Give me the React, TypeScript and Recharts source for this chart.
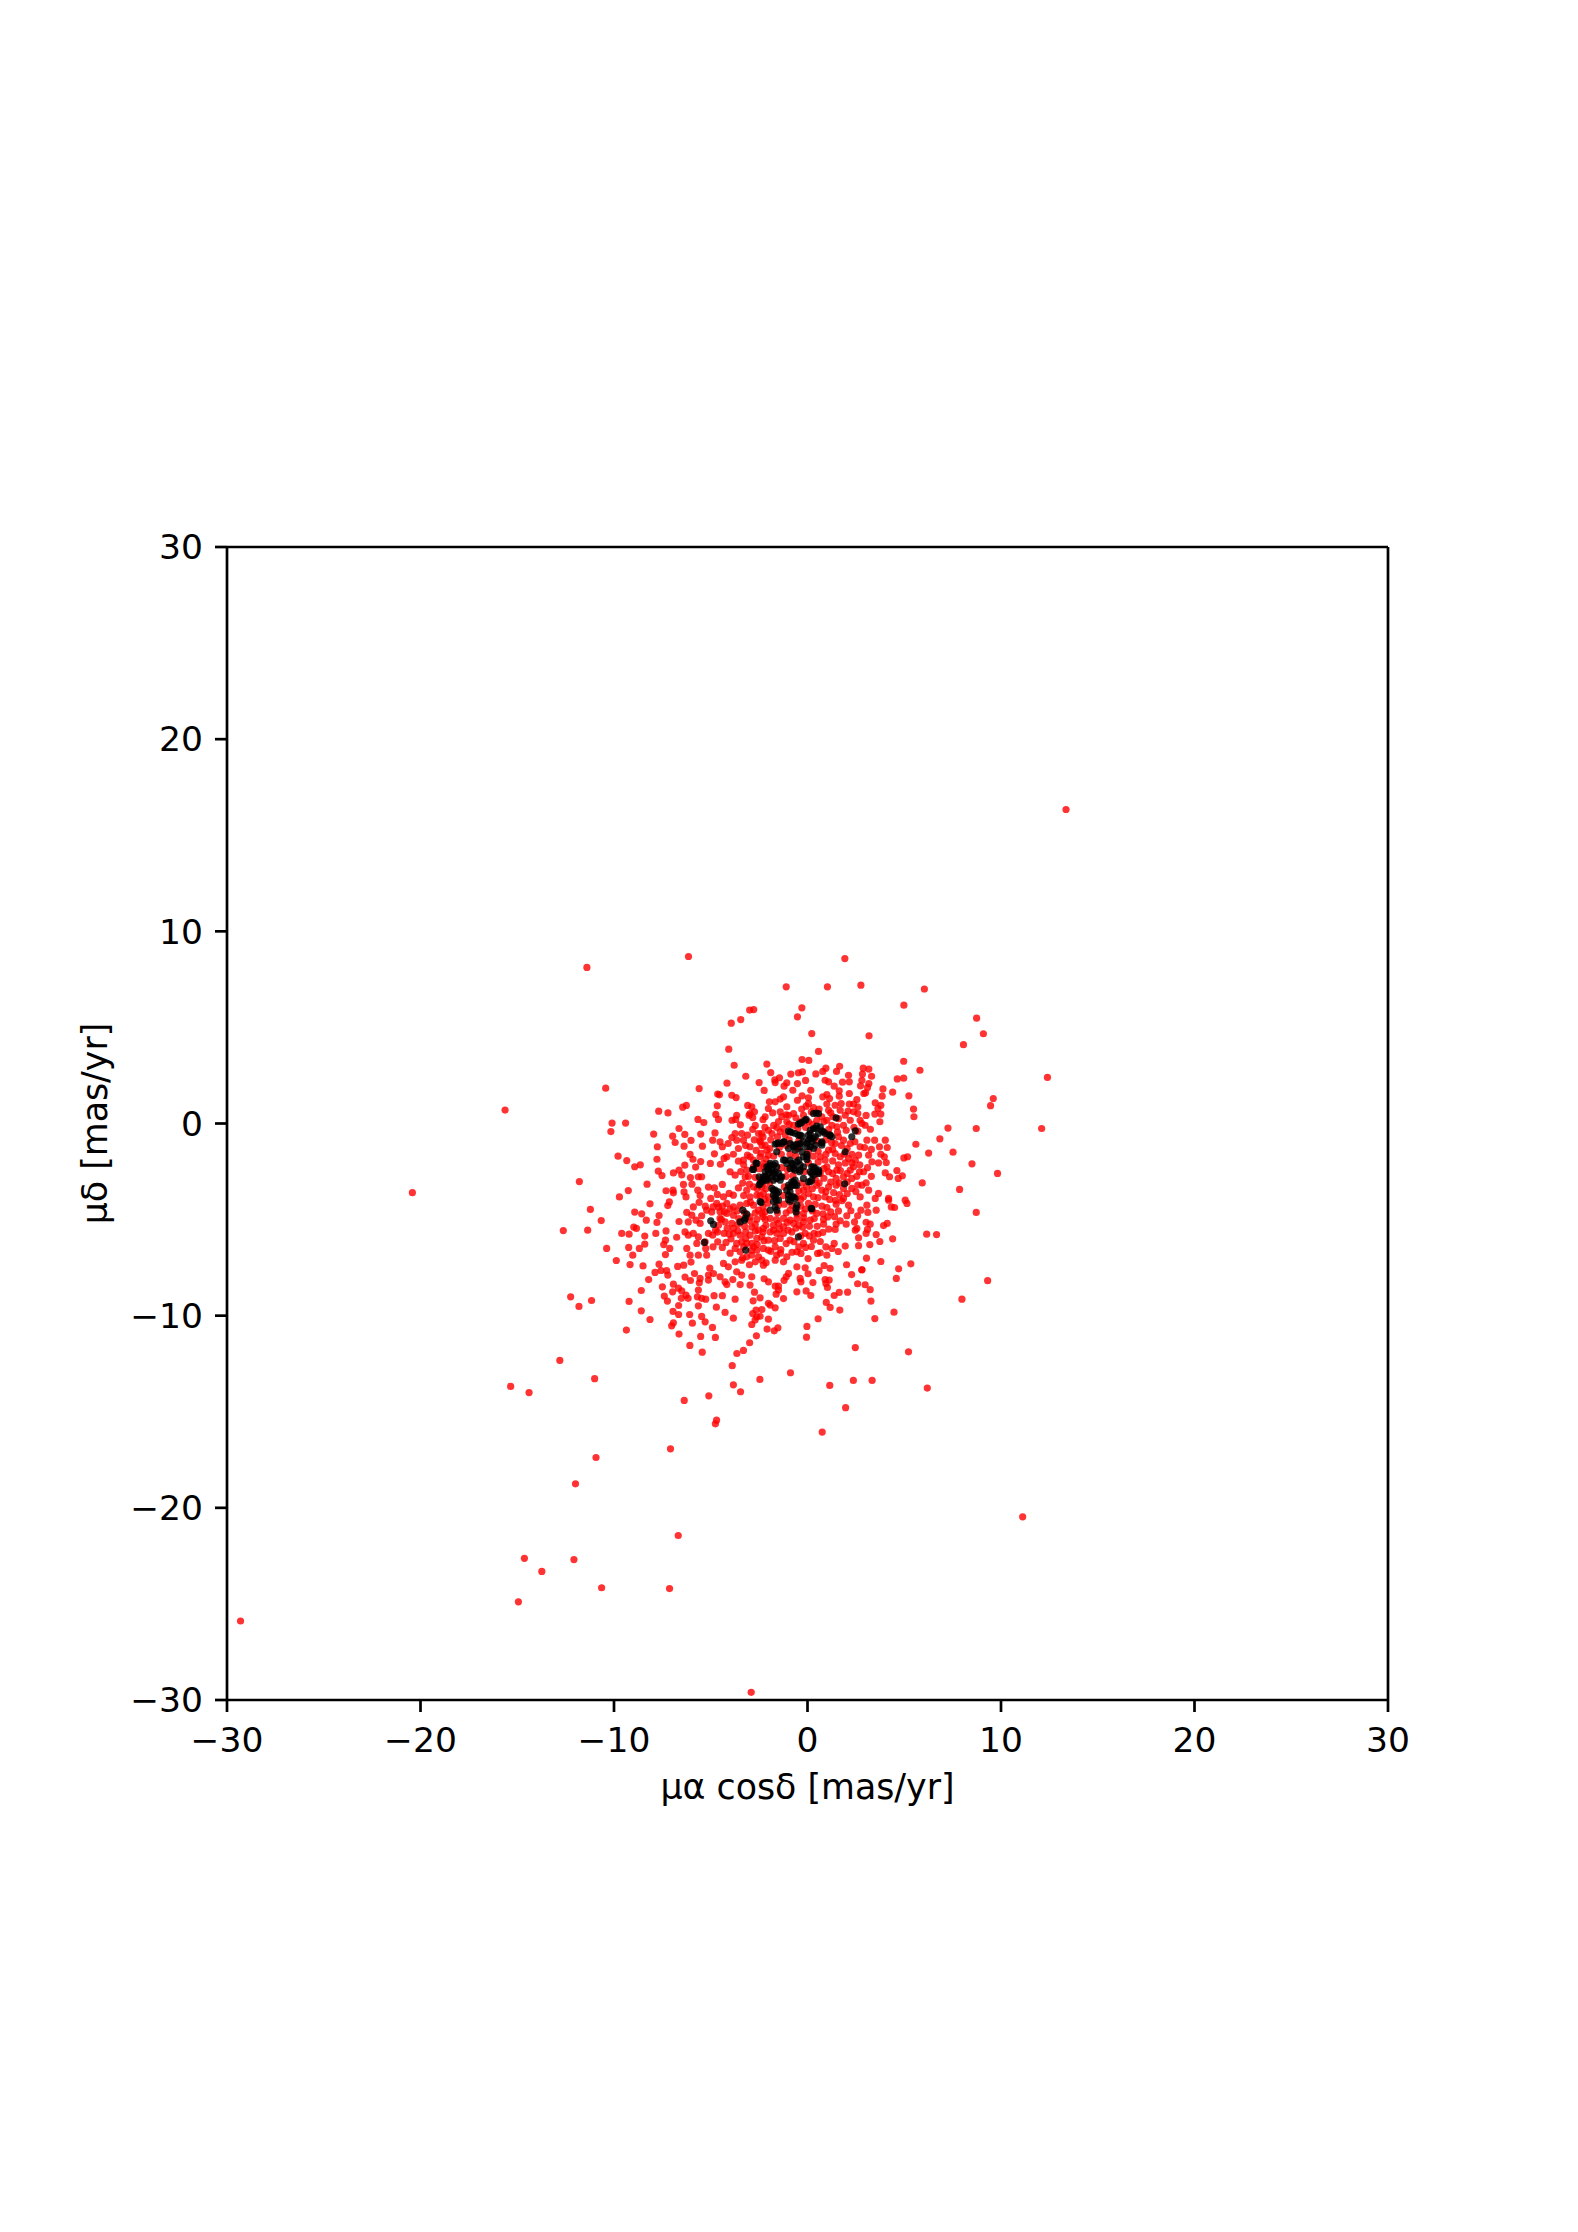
import { ScatterChart, Scatter, XAxis, YAxis, ReferenceLine } from 'recharts'

const TICKS = [-30, -20, -10, 0, 10, 20, 30]
const X_LABEL = 'μα cosδ [mas/yr]'
const Y_LABEL = 'μδ [mas/yr]'

// field stars, [pmra, pmdec]
const redOutliers: [number, number][] = [
  [13.36, 16.34], [-6.15, 8.69], [-11.4, 8.12], [1.93, 8.58], [-1.1, 7.11], [1.03, 7.11], [2.76, 7.2], [6.04, 7.0],
  [4.98, 6.16], [-0.29, 6.02], [-0.52, 5.55], [-2.99, 5.9], [-2.78, 5.93], [-3.45, 5.41], [-3.94, 5.22], [8.74, 5.48],
  [0.22, 4.68], [3.18, 4.56], [9.09, 4.67], [8.06, 4.1], [12.4, 2.4], [12.1, -0.26], [9.6, 1.3], [9.46, 0.93],
  [8.72, -0.26], [8.5, -2.1], [9.82, -2.6], [8.72, -4.63], [9.31, -8.18], [7.98, -9.14], [-15.63, 0.7], [-20.42, -3.6],
  [-6.08, -11.55], [-5.44, -11.9], [-3.65, -11.97], [-3.31, -11.81], [-2.99, -11.41], [2.47, -11.66], [5.22, -11.88],
  [-3.89, -12.6], [-12.8, -12.33], [-11.0, -13.28], [-15.34, -13.68], [-14.39, -14.0], [-2.46, -13.32], [-0.88, -12.97],
  [-3.83, -13.6], [-3.46, -13.96], [-5.1, -14.17], [-6.37, -14.41], [1.15, -13.63], [2.37, -13.37], [3.34, -13.37],
  [6.19, -13.77], [1.97, -14.79], [0.76, -16.06], [-4.7, -15.44], [-4.76, -15.63], [-7.08, -16.93], [-10.93, -17.38],
  [-11.99, -18.75], [11.12, -20.47], [-6.68, -21.44], [-14.63, -22.63], [-12.07, -22.69], [-13.73, -23.31],
  [-10.64, -24.16], [-7.13, -24.2], [-14.94, -24.89], [-29.3, -25.89], [-2.91, -29.6],
]

const redUpperLeft: [number, number][] = [
  [-4.07, 3.87], [-3.79, 3.03], [-3.19, 2.46], [-4.16, 2.1], [-2.5, 2.13], [-10.43, 1.84], [-5.6, 1.82], [-4.64, 1.53],
  [-4.55, 1.49], [-3.91, 1.47], [-3.69, 1.35], [-7.69, 0.64], [-7.21, 0.55], [-6.26, 0.94], [-6.45, 0.85], [-4.66, 0.92],
  [-3.09, 0.94], [-2.88, 0.87], [-4.74, 0.47], [-4.6, 0.21], [-5.66, 0.21], [-5.36, 0.05], [-3.9, 0.17], [-3.66, 0.43],
  [-3.71, 0.21], [-2.97, 0.52], [-2.74, 0.61], [-2.83, 0.31], [-3.02, 0.43], [-10.1, 0.02], [-9.4, 0.02], [-10.16, -0.42],
  [-7.95, -0.55], [-6.64, -0.26], [-6.97, -0.66], [-6.84, -0.99], [-6.34, -0.57], [-6.02, -0.88], [-5.52, -0.55],
  [-4.78, -0.49], [-4.9, -0.87], [-3.47, -0.07], [-2.83, -0.31], [-6.38, -1.18], [-5.43, -1.18], [-7.76, -1.21],
  [-4.52, -0.95], [-4.4, -1.21], [-4.1, -1.04], [-3.74, -0.52], [-3.4, -0.52], [-3.91, -0.73], [-3.66, -0.87],
  [-3.31, -0.87], [-3.57, -1.3], [-2.97, -1.21], [-2.53, -0.52], [-2.45, -0.95], [-9.79, -1.7], [-9.34, -1.93],
  [-8.93, -2.25], [-8.64, -2.15], [-7.78, -1.86], [-7.71, -2.48], [-7.52, -2.71], [-6.93, -2.57], [-6.64, -2.43],
  [-6.5, -2.67], [-6.34, -2.17], [-6.07, -1.61], [-5.92, -1.86], [-5.78, -2.27], [-5.52, -1.98], [-4.81, -1.58],
  [-5.02, -2.08], [-4.5, -2.12], [-4.31, -1.82], [-4.17, -1.73], [-3.83, -1.6], [-3.57, -1.96], [-3.31, -1.91],
  [-2.97, -1.73], [-3.14, -2.43], [-2.79, -2.25], [-4.0, -2.51], [-3.74, -2.69], [-3.22, -2.77], [-3.57, -3.35],
  [-6.05, -2.81], [-5.64, -2.77], [-5.47, -2.77], [-11.79, -3.02], [-8.29, -3.16], [-9.26, -3.49], [-9.72, -3.82],
  [-7.31, -3.5], [-6.95, -3.47], [-6.93, -3.61], [-6.41, -3.17], [-6.38, -3.56], [-6.28, -3.82], [-5.97, -3.16],
  [-5.67, -3.47], [-5.12, -3.31], [-4.81, -3.35], [-4.4, -3.17], [-4.05, -3.64], [-3.83, -3.73], [-4.66, -3.69],
  [-4.34, -3.82], [-3.14, -3.47], [-2.79, -3.3], [-2.97, -3.82], [-2.62, -3.73],
]

const redLowerLeft: [number, number][] = [
  [-11.22, -4.47], [-10.66, -5.05], [-12.62, -5.57], [-11.36, -5.55], [-8.93, -4.61], [-8.57, -4.7], [-8.14, -4.18],
  [-7.67, -4.79], [-8.33, -5.03], [-7.78, -5.15], [-8.98, -5.39], [-8.84, -5.46], [-9.6, -5.72], [-9.22, -5.76],
  [-8.41, -5.86], [-7.84, -5.72], [-7.31, -5.59], [-6.76, -5.92], [-6.64, -5.1], [-7.14, -4.08], [-7.22, -4.27],
  [-6.24, -4.63], [-5.9, -4.34], [-6.16, -5.12], [-5.98, -4.77], [-5.76, -5.03], [-5.47, -4.8], [-5.55, -5.2],
  [-5.28, -4.3], [-4.88, -4.34], [-4.52, -4.59], [-6.33, -5.64], [-6.16, -5.81], [-5.9, -5.72], [-5.64, -5.9],
  [-10.38, -6.5], [-9.24, -6.45], [-8.41, -6.28], [-8.69, -6.5], [-9.03, -6.85], [-7.34, -6.07], [-7.43, -6.3],
  [-7.12, -6.5], [-7.34, -6.82], [-9.88, -7.13], [-9.17, -7.34], [-8.5, -7.41], [-7.67, -7.32], [-6.24, -6.5],
  [-5.72, -6.24], [-5.64, -6.85], [-6.07, -6.85], [-6.02, -7.21], [-6.71, -7.44], [-6.4, -7.37], [-5.26, -6.5],
  [-5.21, -6.85], [-4.88, -6.42], [-4.64, -6.16], [-4.31, -5.72], [-5.12, -5.72], [-4.9, -5.81], [-4.21, -6.19],
  [-3.83, -5.72], [-3.66, -6.24], [-3.4, -6.16], [-3.14, -6.24], [-2.88, -6.24], [-3.74, -6.5], [-3.48, -6.68],
  [-3.14, -6.94], [-2.88, -6.85], [-2.62, -6.59], [-2.62, -5.98], [-4.34, -7.28], [-4.09, -7.46], [-3.74, -7.2],
  [-3.4, -7.11], [-7.88, -7.75], [-7.57, -7.65], [-7.28, -7.66], [-7.22, -7.89], [-8.21, -8.12], [-5.05, -7.53],
  [-5.84, -7.81], [-6.33, -7.99], [-6.05, -8.17], [-5.55, -8.06], [-5.59, -8.29], [-5.12, -7.89], [-4.86, -7.81],
  [-5.12, -8.15], [-4.52, -7.98], [-4.26, -8.24], [-3.86, -8.12], [-4.17, -8.38], [-3.66, -7.72], [-3.4, -7.89],
  [-3.48, -8.38], [-2.97, -8.41], [-2.88, -7.98], [-6.93, -8.36], [-7.5, -8.5], [-6.97, -8.76], [-6.67, -8.57],
  [-8.59, -8.69], [-6.5, -8.71], [-6.28, -8.93], [-6.17, -9.1], [-6.52, -9.1], [-7.4, -8.98], [-7.24, -9.24],
  [-5.64, -8.67], [-5.69, -9.02], [-5.26, -9.14], [-5.47, -9.1], [-4.83, -8.96], [-4.4, -8.96], [-3.74, -9.14],
  [-2.74, -8.78], [-2.81, -9.23], [-12.24, -9.02], [-11.16, -9.21], [-11.81, -9.52], [-9.22, -9.26], [-8.59, -9.75],
  [-8.14, -10.2], [-6.66, -9.47], [-6.95, -9.78], [-6.66, -9.94], [-5.64, -9.49], [-4.71, -9.56], [-6.09, -9.94],
  [-5.47, -10.04], [-5.29, -10.32], [-4.26, -9.83], [-3.83, -10.13], [-2.66, -9.71], [-2.83, -9.89], [-2.62, -10.06],
  [-2.71, -10.23], [-2.88, -10.46], [-6.93, -10.37], [-7.02, -10.53], [-5.95, -10.39], [-9.36, -10.75], [-6.64, -10.96],
  [-4.91, -10.61], [-5.52, -11.08], [-4.76, -11.13], [-2.64, -11.05], [-4.17, -4.16], [-3.83, -4.34], [-3.48, -4.25],
  [-3.14, -4.16], [-2.79, -4.25], [-2.53, -4.51], [-4.17, -4.68], [-3.83, -4.77], [-4.52, -4.94], [-4.26, -5.12],
  [-3.91, -5.2], [-3.83, -5.46], [-2.97, -4.86], [-2.62, -4.99], [-2.88, -5.38], [-2.53, -5.55], [-3.19, -5.64],
  [-3.48, -5.81], [-2.97, -5.81], [-3.19, -5.98], [-4.69, -4.16], [-5.21, -4.51], [-2.79, -6.42], [-2.53, -6.94],
  [-5.29, -6.16],
]

const redUpperRight: [number, number][] = [
  [0.57, 3.75], [-0.28, 3.33], [0.07, 3.28], [4.97, 3.24], [5.81, 2.77], [-2.1, 3.09], [-1.9, 2.65], [-0.86, 2.57],
  [-0.47, 2.64], [-0.26, 2.69], [0.43, 2.58], [0.79, 2.71], [0.95, 2.88], [1.66, 2.98], [1.5, 2.71], [2.12, 2.51],
  [2.88, 2.88], [3.17, 2.83], [3.31, 2.46], [2.84, 2.57], [2.81, 2.25], [3.17, 2.08], [3.1, 1.87], [2.74, 1.96],
  [3.0, 1.6], [2.91, 1.56], [4.64, 2.32], [4.97, 2.36], [4.4, 1.63], [5.24, 1.44], [3.9, 1.8], [3.86, 1.42],
  [-1.69, 2.27], [-1.45, 2.38], [-1.67, 2.13], [-1.07, 2.12], [-1.21, 1.94], [-0.52, 2.08], [-0.1, 2.24], [0.91, 2.25],
  [1.09, 2.17], [1.38, 1.94], [1.81, 2.15], [2.16, 2.17], [-2.24, 1.72], [-0.76, 1.73], [0.17, 1.73], [1.64, 1.7],
  [1.64, 1.42], [2.16, 1.56], [0.79, 1.39], [1.0, 1.51], [1.14, 1.3], [-0.28, 1.44], [-0.52, 1.21], [0.05, 1.34],
  [-1.24, 1.39], [-1.41, 1.27], [-1.67, 1.13], [-1.97, 1.13], [-2.02, 0.78], [-2.19, 0.35], [2.55, 1.25], [2.16, 1.01],
  [2.38, 1.01], [1.43, 0.95], [1.74, 1.04], [1.0, 1.01], [1.09, 0.69], [0.05, 1.04], [-0.07, 0.9], [0.31, 0.83],
  [-1.07, 0.87], [-1.41, 0.61], [-0.72, 0.52], [-0.98, 0.43], [-1.33, 0.35], [3.5, 1.08], [3.79, 0.95], [3.64, 0.78],
  [3.48, 0.49], [3.79, 0.49], [3.03, 0.42], [2.6, 0.87], [2.38, 0.61], [2.6, 0.52], [1.69, 0.69], [1.95, 0.43],
  [1.31, 0.35], [1.0, 0.17], [5.48, 0.75], [5.5, 0.35], [3.74, 0.09], [2.72, 0.17], [2.21, 0.17], [2.98, -0.09],
  [2.81, 0.0], [1.86, -0.09], [1.52, -0.17], [1.26, -0.09], [7.26, -0.24], [6.84, -0.8], [5.6, -1.08], [6.26, -1.54],
  [7.52, -1.49], [3.07, -0.87], [3.47, -0.87], [4.02, -0.87], [3.72, -1.21], [4.12, -1.25], [2.72, -1.21], [2.21, -1.04],
  [1.86, -0.87], [1.6, -0.69], [1.43, -1.04], [1.09, -1.39], [1.43, -1.56], [1.69, -1.73], [2.12, -1.82], [2.64, -1.65],
  [2.47, -1.91], [2.38, -2.25], [3.16, -1.65], [3.33, -1.99], [3.79, -1.6], [3.97, -1.73], [3.67, -2.05], [4.07, -2.03],
  [4.98, -1.79], [5.17, -1.73], [2.69, -2.51], [2.9, -2.51], [2.21, -2.43], [4.02, -2.57], [4.24, -2.77], [4.62, -2.45],
  [4.9, -2.72], [4.69, -2.86], [5.93, -3.09], [7.86, -3.43], [1.52, -2.43], [1.09, -2.51], [1.48, -2.86], [1.86, -2.77],
  [2.29, -2.86], [1.48, -3.21], [1.09, -3.3], [1.86, -3.38], [2.29, -3.38], [2.81, -3.21], [3.03, -3.09], [3.16, -3.47],
  [2.72, -3.82], [3.67, -3.64], [4.19, -3.9], [3.5, -3.9], [5.05, -3.99], [1.86, -3.9], [0.91, -3.82], [-2.36, -0.52],
  [-2.02, -0.35], [-1.59, -0.21], [-2.45, -0.87], [-2.19, -1.13], [-1.07, 0.09], [-0.72, -0.09], [-2.1, -1.39],
  [-2.45, -1.73], [-2.28, -2.08], [-2.02, -1.65], [-1.84, -0.52], [-1.41, -0.43], [-0.21, 0.43], [1.0, -0.52],
  [0.74, 0.35], [0.48, 0.17], [0.05, 0.09], [-0.38, 0.09], [0.66, -1.73], [0.91, -1.91], [0.66, -2.6], [1.0, -2.25],
  [0.48, -3.21], [0.74, -3.47], [0.31, -3.82], [-0.21, -3.47], [-0.21, -3.82], [-0.55, -3.82], [-2.1, -2.77],
  [-2.36, -3.3], [-2.02, -3.82], [-2.45, -2.95], [-2.28, -3.64],
]

const redLowerRight: [number, number][] = [
  [6.16, -5.76], [6.67, -5.78], [4.4, -6.0], [3.55, -5.78], [3.74, -6.14], [3.22, -6.3], [2.64, -5.95], [2.64, -6.36],
  [1.95, -6.38], [1.59, -6.66], [1.38, -6.24], [0.95, -6.42], [1.26, -6.5], [0.66, -6.14], [1.0, -6.85], [0.66, -6.73],
  [0.52, -6.76], [3.05, -7.01], [3.79, -7.18], [5.34, -7.3], [2.02, -7.35], [4.71, -7.56], [2.81, -7.61], [2.81, -7.61],
  [4.59, -8.06], [2.28, -7.86], [1.17, -7.54], [0.86, -7.39], [0.6, -7.66], [0.03, -7.03], [-0.12, -7.51], [-0.55, -7.46],
  [0.03, -7.82], [-0.38, -8.06], [-0.34, -8.24], [0.28, -8.28], [0.91, -8.12], [1.12, -8.15], [0.95, -8.33], [1.03, -8.53],
  [2.59, -8.34], [2.98, -8.39], [3.24, -8.65], [2.07, -8.78], [1.64, -8.79], [1.38, -8.95], [-0.07, -8.71], [0.17, -8.95],
  [-0.55, -8.76], [-1.24, -9.11], [-0.98, -7.8], [-1.1, -7.98], [-1.21, -8.16], [-2.24, -8.08], [-2.02, -8.24],
  [-1.67, -8.46], [-1.5, -8.46], [-1.5, -8.67], [-1.62, -8.88], [3.28, -9.24], [0.97, -9.31], [1.17, -9.57], [1.67, -9.71],
  [4.47, -9.82], [3.48, -10.15], [0.55, -10.16], [-2.02, -9.36], [-1.93, -9.45], [-1.67, -9.59], [-2.36, -9.68],
  [-2.45, -9.07], [-2.02, -10.18], [-2.45, -10.03], [-1.53, -10.63], [-1.72, -10.79], [-2.09, -10.7], [-0.03, -10.56],
  [-0.05, -11.12], [1.48, -4.2], [1.0, -4.37], [2.12, -4.25], [2.24, -4.54], [1.78, -4.02], [3.07, -4.25], [2.76, -4.51],
  [3.12, -4.63], [3.55, -4.51], [2.59, -4.8], [2.03, -4.8], [4.33, -4.34], [4.5, -4.37], [5.14, -4.16], [4.19, -3.99],
  [4.12, -5.2], [3.93, -5.31], [3.03, -5.14], [3.24, -5.24], [2.43, -5.12], [3.1, -5.51], [3.03, -5.72], [2.55, -5.46],
  [2.47, -5.55], [2.0, -5.24], [1.69, -5.06], [1.48, -5.24], [1.43, -5.51], [1.05, -4.86], [0.83, -4.99], [0.83, -5.24],
  [0.79, -5.67], [0.34, -5.72], [-0.21, -5.12], [-0.45, -5.29], [-0.72, -5.2], [-0.9, -5.03], [-1.24, -4.94], [-1.24, -5.38],
  [-0.81, -5.64], [-1.5, -5.2], [-1.76, -5.29], [-1.93, -4.94], [-2.19, -4.99], [-2.28, -5.46], [-1.93, -5.64], [-1.59, -5.72],
  [-1.24, -5.72], [-2.36, -5.9], [-2.02, -6.07], [-1.41, -5.98], [-0.9, -6.07], [-0.12, -5.72], [0.31, -6.07], [-0.21, -6.24],
  [-0.45, -6.42], [-0.55, -6.68], [-0.34, -6.76], [-1.38, -6.56], [-1.67, -6.42], [-2.28, -6.5], [-2.02, -6.59], [-1.59, -6.85],
  [-1.07, -6.94], [-1.24, -7.2], [-1.67, -7.11], [-2.14, -7.25], [-2.36, -7.11], [-2.28, -7.37], [0.14, -5.03], [0.48, -4.68],
  [-0.9, -4.51], [-0.21, -4.68], [-2.36, -4.68],
]

// solid red part of the cloud, single dots can't be told apart here so these are estimates
const redCore: [number, number][] = [
  [-2.3, 0.2], [-1.8, 0.55], [-1.5, 0.1], [-1.1, 0.45], [-0.6, 0.3], [-0.3, 0.75], [0.2, 0.6], [0.6, 0.75], [1.2, 0.55],
  [1.6, 0.25], [2.1, 0.65], [2.4, -0.2], [-2.7, -0.1], [-2.2, -0.2], [-1.75, -0.1], [-1.25, -0.25], [-0.95, -0.05],
  [-0.5, -0.25], [-0.1, -0.2], [0.25, -0.05], [0.85, 0.1], [1.1, -0.3], [1.55, -0.45], [2.0, -0.35], [2.6, -0.4], [3.25, -0.3],
  [-3.1, -0.6], [-2.75, -0.85], [-2.3, -0.7], [-1.9, -0.85], [-1.55, -0.7], [-1.15, -0.6], [-0.95, -0.85], [-0.45, -0.9],
  [0.5, -0.9], [0.95, -0.85], [1.25, -1.0], [1.75, -1.15], [2.05, -1.3], [2.45, -0.95], [2.95, -1.25], [3.3, -1.35],
  [-3.2, -1.15], [-2.65, -1.4], [-2.35, -1.15], [-1.95, -1.3], [-1.45, -1.25], [-1.1, -1.15], [-0.5, -1.3], [0.05, -1.45],
  [0.55, -1.45], [0.95, -1.6], [1.3, -1.35], [1.9, -1.6], [2.3, -1.6], [-3.1, -1.65], [-2.8, -1.9], [-2.4, -1.55],
  [-2.15, -1.85], [-1.75, -1.7], [-1.35, -1.6], [-0.9, -1.6], [-0.6, -1.7], [0.3, -1.7], [0.55, -2.0], [1.3, -1.95],
  [1.6, -2.15], [1.95, -2.05], [2.3, -2.05], [2.7, -2.15], [3.1, -2.3], [-3.3, -2.15], [-2.5, -2.35], [-2.25, -2.25],
  [-1.35, -2.3], [-1.05, -2.4], [-0.15, -2.5], [0.05, -2.05], [0.85, -2.35], [1.3, -2.6], [1.7, -2.45], [2.05, -2.6],
  [2.55, -2.75], [3.3, -2.75], [-3.45, -2.5], [-3.05, -2.75], [-2.7, -2.8], [-2.3, -3.1], [-1.1, -2.75], [-0.75, -2.7],
  [-0.3, -3.1], [0.4, -2.9], [0.85, -2.85], [1.2, -3.05], [1.65, -3.1], [2.05, -3.05], [2.6, -3.2], [-3.35, -3.1],
  [-3.0, -3.15], [-2.6, -3.4], [-2.15, -3.4], [-1.95, -3.1], [-1.2, -3.3], [-0.45, -3.5], [-0.05, -3.3], [0.25, -3.4],
  [0.6, -3.1], [0.95, -3.55], [1.35, -3.6], [1.65, -3.7], [2.05, -3.65], [2.5, -3.55], [-3.3, -3.75], [-2.45, -3.75],
  [-2.2, -3.95], [-1.25, -3.75], [-0.35, -3.95], [0.05, -3.65], [0.55, -3.85], [1.15, -3.95], [1.45, -4.0], [-2.95, -4.1],
  [-2.3, -4.35], [-2.05, -4.15], [-1.5, -4.25], [-1.2, -4.2], [-0.8, -4.25], [-0.35, -4.3], [0.05, -4.15], [0.4, -4.2],
  [0.75, -4.3], [1.2, -4.6], [1.6, -4.55], [-3.65, -4.55], [-3.25, -4.65], [-2.7, -4.65], [-2.2, -4.6], [-1.55, -4.65],
  [-1.1, -4.65], [-0.55, -4.7], [-0.1, -4.45], [0.25, -4.55], [0.8, -4.7], [1.4, -4.85], [-4.4, -4.3], [-4.0, -4.45],
  [-3.55, -4.95], [-3.0, -5.05], [-2.3, -4.85], [-1.6, -5.0], [-0.55, -4.95], [-0.2, -4.9], [0.35, -4.95], [-4.6, -5.3],
  [-4.15, -5.45], [-3.6, -5.25], [-3.25, -5.35], [-2.7, -5.25], [-2.15, -5.3], [-1.05, -5.15], [-0.6, -5.45], [-0.25, -5.4],
  [0.1, -5.35], [0.5, -5.35], [1.1, -5.5], [-4.65, -5.65], [-4.05, -5.75], [-3.6, -5.6], [-2.7, -5.6], [-2.3, -5.65],
  [-1.75, -5.55], [-1.45, -5.5], [-1.0, -5.55], [-0.35, -5.85], [0.1, -5.85], [0.55, -5.75], [-4.4, -6.45], [-3.95, -6.0],
  [-3.3, -6.4], [-2.6, -6.3], [-2.25, -6.1], [-1.7, -6.1], [-1.1, -6.25], [-0.7, -6.15], [-0.1, -6.45], [0.2, -6.4],
  [-1.9, -6.65], [-2.9, -6.6], [-4.0, -6.75], [-3.35, -7.0], [-2.7, -7.2], [-1.4, -6.75], [-0.8, -6.7], [-3.0, -7.35],
  [-5.0, -3.9], [-4.6, -4.35], [-5.6, -4.1], [-4.95, -4.6], [-4.3, -4.6], [-5.55, -3.75], [-4.45, -5.0], [-4.75, -5.55],
]

// cluster members
const blackPoints: [number, number][] = [
  [0.45, 0.54], [0.31, 0.52], [0.57, 0.52], [1.48, 0.29], [-0.12, 0.17], [-0.38, 0.0], [2.47, -0.38], [2.29, -0.69],
  [1.95, -1.47], [1.92, -3.14], [-0.9, -0.43], [-0.64, -0.52], [-0.38, -0.61], [0.14, -0.52], [0.41, -0.26], [0.66, -0.17],
  [0.83, -0.43], [1.17, -0.61], [0.05, -0.87], [0.31, -0.78], [0.74, -0.95], [-1.59, -1.04], [-1.24, -0.95], [-0.72, -1.13],
  [-0.38, -1.04], [-0.03, -1.21], [0.31, -1.3], [-1.59, -1.47], [-0.98, -1.3], [-0.64, -1.39], [-0.29, -1.47], [-0.03, -1.73],
  [-1.16, -1.91], [-0.81, -2.08], [-0.45, -1.91], [-0.72, -2.34], [-0.38, -2.43], [0.31, -2.25], [0.57, -2.43], [0.57, -2.6],
  [0.22, -2.6], [-1.93, -2.17], [-1.67, -2.08], [-2.02, -2.43], [-1.76, -2.6], [-1.41, -2.77], [-2.19, -2.77], [-2.36, -3.03],
  [-0.72, -3.03], [-0.98, -3.21], [-0.64, -3.21], [-0.21, -2.86], [0.14, -3.03], [-1.76, -3.47], [-1.59, -3.64], [-0.9, -3.56],
  [-0.72, -3.82], [-1.67, -3.82], [-2.66, -2.06], [-2.84, -2.39], [-2.5, -2.77], [-2.5, -3.2], [-5.0, -5.06], [-4.86, -5.25],
  [-5.33, -6.19], [-3.19, -6.59], [-3.34, -4.51], [-3.14, -4.72], [-3.26, -5.03], [-3.48, -5.12], [-2.45, -4.07], [-1.93, -4.51],
  [-1.59, -4.51], [-1.67, -4.34], [-0.59, -4.42], [-0.55, -4.25], [0.19, -4.42], [-0.47, -5.9], [-0.9, -4.04], [-1.76, -4.06],
  [-0.47, -0.03], [-0.29, 0.07], [-0.07, 0.21], [-0.98, -0.4], [-0.81, -0.47], [-0.47, -0.61], [-0.29, -0.66], [0.05, -0.61],
  [0.14, -0.35], [0.31, -0.26], [0.48, -0.14], [0.74, -0.38], [0.14, -0.78], [0.4, -0.69], [0.57, -0.52], [0.91, -0.52],
  [1.14, -0.61], [1.26, -0.69], [-1.67, -1.08], [-1.5, -1.01], [-1.33, -1.04], [-1.21, -0.95], [-0.9, -1.04], [-0.72, -1.21],
  [-0.55, -1.08], [-0.38, -1.21], [-0.21, -0.95], [-0.03, -1.04], [0.14, -1.21], [0.4, -1.13], [0.22, -0.95], [0.74, -1.01],
  [0.74, -1.13], [-1.24, -1.91], [-1.07, -2.08], [-0.9, -1.91], [-0.72, -2.17], [-0.55, -1.99], [-0.38, -2.17], [-0.21, -2.25],
  [-0.64, -2.43], [-0.41, -2.51], [-0.9, -2.34], [-0.21, -1.73], [-0.03, -1.87], [-0.03, -1.6], [-2.1, -2.25], [-1.93, -2.08],
  [-1.76, -2.17], [-1.59, -2.25], [-2.19, -2.51], [-2.02, -2.6], [-1.84, -2.43], [-1.67, -2.51], [-1.5, -2.6], [-2.28, -2.95],
  [-2.1, -2.86], [-1.84, -2.77], [-1.59, -2.86], [-1.33, -2.77], [0.22, -2.25], [0.4, -2.34], [0.57, -2.51], [0.14, -2.51],
  [0.31, -2.69], [-0.81, -3.03], [-0.64, -2.95], [-0.55, -3.21], [-0.9, -3.3], [-0.76, -3.21], [-1.84, -3.38], [-1.67, -3.47],
  [-1.5, -3.56], [-1.76, -3.73], [-1.5, -3.99], [-1.07, -3.47], [-0.98, -3.73], [-0.81, -3.82], [-0.64, -3.9], [-0.98, -3.95],
  [-0.59, -4.6], [0.22, -4.44], [-1.62, -3.99], [-2.4, -4.11], [-3.22, -4.94], [-2.79, -2.39], [-2.62, -2.08], [-2.45, -3.12],
  [-2.28, -2.77], [-2.1, -2.95], [-2.02, -2.34], [-1.76, -2.95], [-1.41, -2.95], [0.05, -3.03], [0.22, -2.95], [0.48, -2.51],
]

const redData = [...redOutliers, ...redUpperLeft, ...redLowerLeft, ...redUpperRight, ...redLowerRight, ...redCore].map(([x, y]) => ({ x, y }))
const blackData = blackPoints.map(([x, y]) => ({ x, y }))

const FONT = '"DejaVu Sans", sans-serif'
const AXIS_LINE = { stroke: '#000', strokeWidth: 2.7 }

const dot = (fill: string) => (props: any) => (
  <circle cx={props.cx} cy={props.cy} r={3.6} fill={fill} fillOpacity={0.8} />
)

const minus = (v: number) => String(v).replace('-', '\u2212')

export default function App() {
  return (
    <div style={{ position: 'absolute', left: 0, top: 0, background: '#fff' }}>
      <ScatterChart width={1578} height={2232} margin={{ top: 547, right: 190, bottom: 402, left: 0 }}>
        <XAxis
          type="number"
          dataKey="x"
          domain={[-30, 30]}
          ticks={TICKS}
          interval={0}
          height={130}
          tickSize={12}
          tickMargin={16}
          tickFormatter={minus}
          tick={{ fontSize: 34.5, fill: '#000', fontFamily: FONT }}
          tickLine={AXIS_LINE}
          axisLine={AXIS_LINE}
          label={{ value: X_LABEL, position: 'insideBottom', offset: 31, fontSize: 34.8, fill: '#000', fontFamily: FONT }}
        />
        <YAxis
          type="number"
          dataKey="y"
          domain={[-30, 30]}
          ticks={TICKS}
          interval={0}
          width={227}
          tickSize={12}
          tickMargin={12}
          tickFormatter={minus}
          tick={{ fontSize: 34.5, fill: '#000', fontFamily: FONT }}
          tickLine={AXIS_LINE}
          axisLine={AXIS_LINE}
          label={{ value: Y_LABEL, angle: -90, position: 'center', dx: -19, fontSize: 34.8, fill: '#000', fontFamily: FONT }}
        />
        <ReferenceLine y={30} stroke="#000" strokeWidth={2.7} />
        <ReferenceLine x={30} stroke="#000" strokeWidth={2.7} />
        <Scatter data={redData} shape={dot('#ff0000')} isAnimationActive={false} />
        <Scatter data={blackData} shape={dot('#000000')} isAnimationActive={false} />
      </ScatterChart>
    </div>
  )
}
